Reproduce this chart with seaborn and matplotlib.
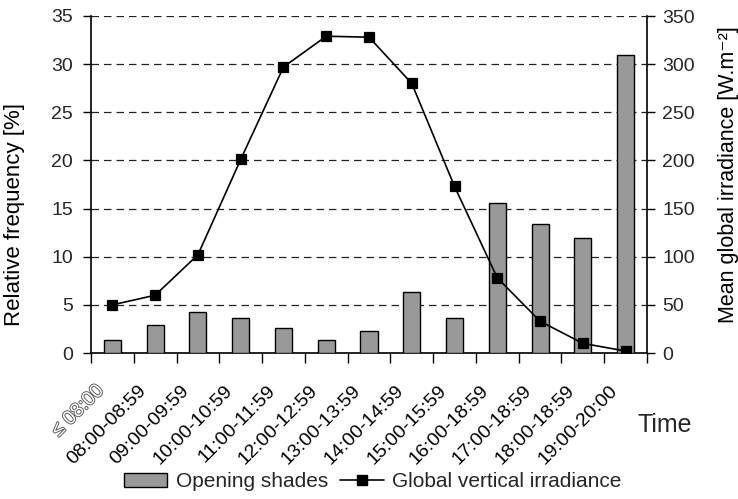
import matplotlib
matplotlib.use("Agg")

import matplotlib.pyplot as plt
import matplotlib.patheffects as pe
from matplotlib.transforms import ScaledTranslation
from matplotlib.patches import Patch
from matplotlib.lines import Line2D
import seaborn as sns

# ─── DATA ────────────────────────────────────────────────────────
time_slots = ["\u2264 08:00", "08:00-08:59", "09:00-09:59", "10:00-10:59",
              "11:00-11:59", "12:00-12:59", "13:00-13:59", "14:00-14:59",
              "15:00-15:59", "16:00-18:59", "17:00-18:59", "18:00-18:59",
              "19:00-20:00"]
shades_pct = [1.4, 2.9, 4.3, 3.6, 2.6, 1.4, 2.3, 6.3, 3.6, 15.6, 13.4, 11.9, 30.9]
irradiance = [50, 60, 102, 201, 297, 329, 328, 280, 173, 78, 33, 10, 2]

BAR_C = "#999999"
FG = "#000000"

sns.set_style("white")
plt.rcParams["font.family"] = ["Liberation Sans", "DejaVu Sans"]

fig = plt.figure(figsize=(7.38, 4.99), dpi=100)
ax = fig.add_axes([91 / 738, 1 - 353 / 499, 556 / 738, 337 / 499])

# bars - relative frequency of opening shades
sns.barplot(x=time_slots, y=shades_pct, color=BAR_C, saturation=1, width=0.4,
            edgecolor=FG, linewidth=1.0, ax=ax, zorder=3)
ax.set_axisbelow(True)
ax.set_ylim(0, 35)
ax.set_yticks(range(0, 36, 5))
ax.yaxis.grid(True, linestyle=(0, (6, 4)), color="#222222", linewidth=0.9)
ax.xaxis.grid(False)

# line - mean global irradiance on twin axis
ax2 = ax.twinx()
sns.pointplot(x=time_slots, y=irradiance, color=FG, markers="s", linestyles="-",
              markersize=7, linewidth=1.2, ax=ax2)
ax2.set_ylim(0, 350)
ax2.set_yticks(range(0, 351, 50))
ax2.grid(False)

for a in (ax, ax2):
    a.set_xlim(-0.5, len(time_slots) - 0.5)
    a.set_xlabel("")
    for s in a.spines.values():
        s.set_visible(False)

ax.spines["left"].set_visible(True)
ax.spines["bottom"].set_visible(True)
ax2.spines["right"].set_visible(True)
for s in (ax.spines["left"], ax.spines["bottom"], ax2.spines["right"]):
    s.set_color(FG)
    s.set_linewidth(1.2)

# ticks
ax.set_xticks(range(len(time_slots)))
ax.set_xticks([i - 0.5 for i in range(len(time_slots) + 1)], minor=True)
ax.set_xticklabels(time_slots)
ax.tick_params(axis="x", which="major", length=0, pad=21, labelsize=14, colors=FG)
ax.tick_params(axis="x", which="minor", length=7, width=1, color=FG, bottom=True)
ax.tick_params(axis="y", left=True, length=6, width=1, color=FG, labelsize=14, pad=7)
ax2.tick_params(axis="y", right=True, length=6, width=1, color=FG, labelsize=14, pad=5)
ax2.tick_params(axis="x", bottom=False, labelbottom=False)

shift = ScaledTranslation(-0.17, 0, fig.dpi_scale_trans)
for lbl in ax.get_xticklabels():
    lbl.set_rotation(45)
    lbl.set_ha("right")
    lbl.set_va("top")
    lbl.set_rotation_mode("anchor")
    lbl.set_transform(lbl.get_transform() + shift)
first = ax.get_xticklabels()[0]
first.set_color("white")
first.set_path_effects([pe.withStroke(linewidth=1.3, foreground="#555555")])

ax.set_ylabel("Relative frequency [%]", fontsize=16, color=FG)
ax.yaxis.set_label_coords(-0.119, 0.41)
ax2.set_ylabel("Mean global irradiance [W.m\u207b\u00b2]", fontsize=15.5, color=FG,
               rotation=90)
ax2.yaxis.set_label_coords(1.128, 0.53)

fig.text(665 / 738, 1 - 425 / 499, "Time", fontsize=18, ha="center", va="center")

handles = [
    Patch(facecolor=BAR_C, edgecolor=FG, linewidth=1.0, label="Opening shades"),
    Line2D([], [], color=FG, marker="s", markersize=7, linewidth=1.2,
           label="Global vertical irradiance"),
]
fig.legend(handles=handles, loc="lower center", bbox_to_anchor=(0.505, -0.022),
           ncol=2, frameon=False, fontsize=15, handlelength=2.1,
           columnspacing=0.6, handletextpad=0.4)

fig.savefig("out.png", dpi=100)
